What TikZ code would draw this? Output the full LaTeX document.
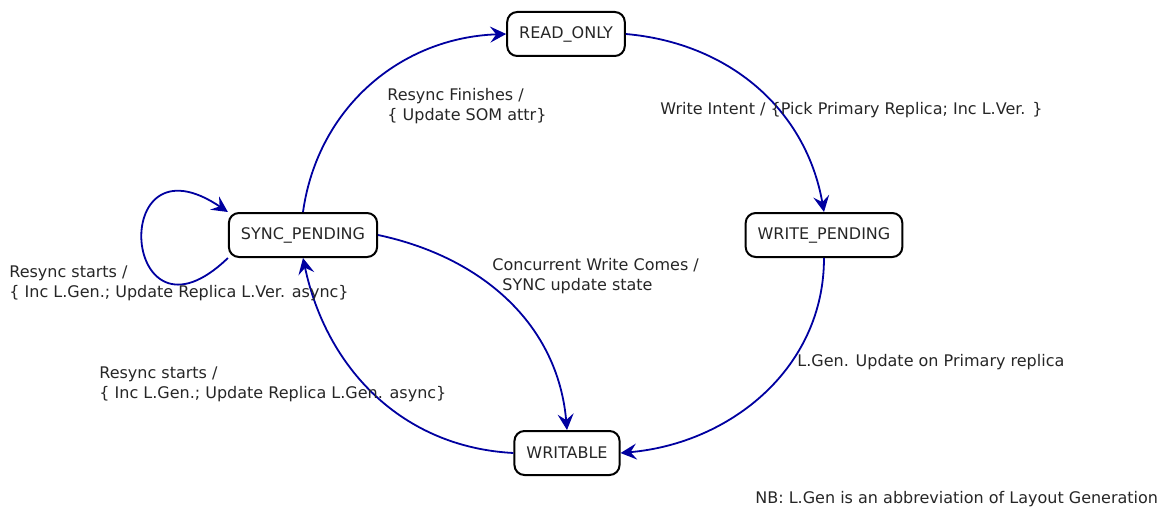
\documentclass[tikz,border=0pt]{standalone}
\usepackage{fontspec}
\setmainfont{DejaVu Sans}
\usepackage{tikz}
\usetikzlibrary{arrows.meta}
\definecolor{edgeblue}{RGB}{0,0,160}

\begin{document}
\begin{tikzpicture}[x=0.5pt,y=-0.5pt,
  state/.style={draw,line width=1pt,rounded corners=5pt,minimum height=22pt,inner xsep=6pt,text=black!85,font=\fontsize{8}{10}\selectfont},
  trans/.style={draw=edgeblue,line width=0.9pt,-{Stealth[length=8pt,width=8pt,inset=3pt]}},
  lbl/.style={anchor=base west,inner sep=0pt,align=left,text=black!85,font=\fontsize{8}{10}\selectfont}]
\useasboundingbox (0,0) rectangle (1162,508);
\node[state] (ro) at (566,34) {READ\_ONLY};
\node[state] (wp) at (824,235) {WRITE\_PENDING};
\node[state] (sp) at (303,235) {SYNC\_PENDING};
\node[state] (wr) at (567,453) {WRITABLE};
\draw[trans] (sp.north) to[out=82,in=182] (ro.west);
\draw[trans] (ro.east) to[out=-5,in=100] (wp.north);
\draw[trans] (wp.south) to[out=-90,in=5] (wr.east);
\draw[trans] (wr.west) to[out=177,in=-78] (sp.south);
\draw[trans] (sp.east) to[out=-12,in=95] (wr.north);
\draw[trans] (sp.south west) to[out=224,in=146,looseness=8.2] (sp.north west);
\node[lbl] (lfin) at (387,121) {Resync Finishes /\\\{ Update SOM attr\}};
\node[lbl] (lint) at (660,115) {Write Intent / \{Pick Primary Replica; Inc L.Ver. \}};
\node[lbl] (lconc) at (492,290) {Concurrent Write Comes /\\\hspace{5pt}SYNC update state};
\node[lbl] (lgen) at (797,366) {L.Gen. Update on Primary replica};
\node[lbl] (lself) at (9,297) {Resync starts /\\\{ Inc L.Gen.; Update Replica L.Ver. async\}};
\node[lbl] (lback) at (99,398) {Resync starts /\\\{ Inc L.Gen.; Update Replica L.Gen. async\}};
\node[lbl] (lnb) at (755,503) {NB: L.Gen is an abbreviation of Layout Generation};
\end{tikzpicture}
\end{document}
